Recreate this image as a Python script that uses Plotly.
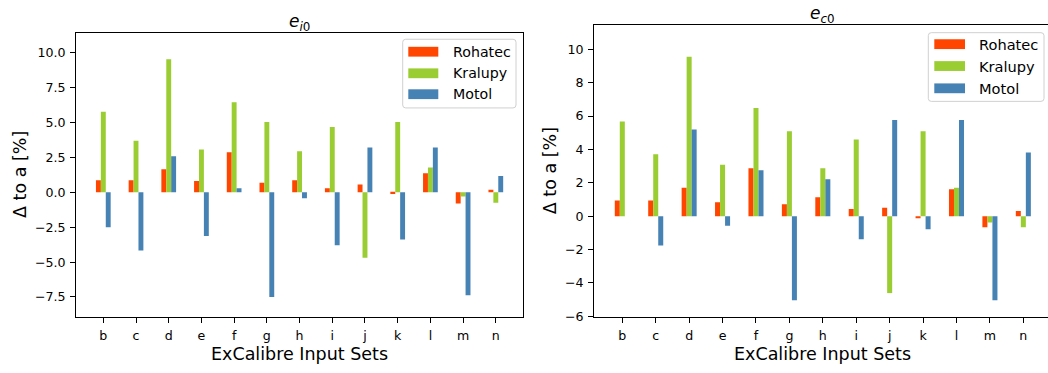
import plotly.graph_objects as go

# ---- data -------------------------------------------------------------
categories = ["b", "c", "d", "e", "f", "g", "h", "i", "j", "k", "l", "m", "n"]
series_names = ["Rohatec", "Kralupy", "Motol"]
series_colors = ["#FF4500", "#9ACD32", "#4682B4"]

ei0_rohatec = [0.87, 0.87, 1.66, 0.82, 2.88, 0.68, 0.87, 0.30, 0.56, -0.12, 1.36, -0.80, 0.19]
ei0_kralupy = [5.77, 3.70, 9.54, 3.07, 6.45, 5.04, 2.95, 4.69, -4.69, 5.04, 1.78, -0.30, -0.75]
ei0_motol = [-2.51, -4.17, 2.58, -3.12, 0.30, -7.50, -0.42, -3.80, 3.21, -3.38, 3.21, -7.38, 1.17]

ec0_rohatec = [0.94, 0.94, 1.71, 0.84, 2.88, 0.72, 1.14, 0.43, 0.51, -0.12, 1.61, -0.67, 0.31]
ec0_kralupy = [5.67, 3.71, 9.55, 3.09, 6.49, 5.09, 2.88, 4.59, -4.61, 5.09, 1.71, -0.38, -0.67]
ec0_motol = [0.0, -1.76, 5.20, -0.57, 2.76, -5.04, 2.21, -1.39, 5.76, -0.79, 5.76, -5.04, 3.82]

ei0_ticks = [-7.5, -5.0, -2.5, 0.0, 2.5, 5.0, 7.5, 10.0]
ec0_ticks = [-6, -4, -2, 0, 2, 4, 6, 8, 10]

# ---- page geometry (pixels) -------------------------------------------
W, H = 1048, 373
FONT = "DejaVu Sans"


def px(x):
    return x / W


def py(y):
    return 1 - y / H


def fmt(v, decimals):
    s = f"{abs(v):.{decimals}f}"
    return ("\u2212" + s) if v < 0 else s


fig = go.Figure()

panels = [
    ("x", "y", [ei0_rohatec, ei0_kralupy, ei0_motol]),
    ("x2", "y2", [ec0_rohatec, ec0_kralupy, ec0_motol]),
]
for xa, ya, values in panels:
    for name, color, vals in zip(series_names, series_colors, values):
        fig.add_trace(go.Bar(
            x=categories, y=vals, name=name, xaxis=xa, yaxis=ya,
            marker=dict(color=color, line=dict(width=0)),
            showlegend=False,
        ))

axis_common = dict(
    showline=True, linecolor="black", linewidth=1,
    ticks="outside", ticklen=5, tickwidth=1, tickcolor="black",
    showgrid=False, zeroline=False,
    tickfont=dict(family=FONT, size=12.6, color="black"),
)

fig.update_layout(
    width=W, height=H,
    margin=dict(l=0, r=0, t=0, b=0),
    paper_bgcolor="white", plot_bgcolor="white",
    barmode="group", bargap=0.55, bargroupgap=0,
    font=dict(family=FONT, color="black"),
    xaxis=dict(domain=[px(76), px(523.3)], range=[-0.835, 12.84],
               type="category", mirror=True, anchor="y",
               ticklabelstandoff=2, **axis_common),
    yaxis=dict(domain=[py(323.3), py(33.3)], range=[-8.95, 11.44],
               tickvals=ei0_ticks, ticktext=[fmt(v, 1) for v in ei0_ticks],
               mirror=True, anchor="x", ticklabelstandoff=2, **axis_common),
    xaxis2=dict(domain=[px(594), 1.0], range=[-0.847, 12.738],
                type="category", mirror=True, anchor="y2",
                ticklabelstandoff=2, **axis_common),
    yaxis2=dict(domain=[py(323), py(25.3)], range=[-6.04, 11.47],
                tickvals=ec0_ticks, ticktext=[fmt(v, 0) for v in ec0_ticks],
                mirror=False, anchor="x2", ticklabelstandoff=2, **axis_common),
)

annotations = []
shapes = []

# panel titles
for cx, ty, sub in [(299.7, 23, "i"), (822.9, 15, "c")]:
    annotations.append(dict(
        text=f"<i>e</i><sub><i>{sub}</i>0</sub>", x=px(cx), y=py(ty),
        xref="paper", yref="paper", xanchor="center", yanchor="middle",
        showarrow=False, font=dict(family=FONT, size=17, color="black"),
    ))

# axis titles
for cx in (299.7, 822.9):
    annotations.append(dict(
        text="ExCalibre Input Sets", x=px(cx), y=py(361),
        xref="paper", yref="paper", xanchor="center", yanchor="middle",
        showarrow=False, font=dict(family=FONT, size=17.5, color="black"),
    ))
for cx, cy in [(20, 178.3), (549.5, 174)]:
    annotations.append(dict(
        text="\u0394 to a [%]", x=px(cx), y=py(cy), textangle=-90,
        xref="paper", yref="paper", xanchor="center", yanchor="middle",
        showarrow=False, font=dict(family=FONT, size=17.5, color="black"),
    ))


def rounded_rect(x0, y0, x1, y1, r):
    """SVG path (paper units) for a rectangle with rounded corners, given pixels."""
    pts = [
        f"M{px(x0 + r)},{py(y0)}",
        f"L{px(x1 - r)},{py(y0)}",
        f"Q{px(x1)},{py(y0)} {px(x1)},{py(y0 + r)}",
        f"L{px(x1)},{py(y1 - r)}",
        f"Q{px(x1)},{py(y1)} {px(x1 - r)},{py(y1)}",
        f"L{px(x0 + r)},{py(y1)}",
        f"Q{px(x0)},{py(y1)} {px(x0)},{py(y1 - r)}",
        f"L{px(x0)},{py(y0 + r)}",
        f"Q{px(x0)},{py(y0)} {px(x0 + r)},{py(y0)}",
        "Z",
    ]
    return " ".join(pts)


# legends drawn as a framed box with colour patches and labels
legends = [
    dict(box=(402.7, 40, 516, 110), patch=(408.3, 438.3), rows=(52.7, 74.7, 96), text_x=451, fs=14.2),
    dict(box=(928.3, 33.3, 1044, 103.3), patch=(934.3, 965), rows=(45, 67.3, 90), text_x=977.3, fs=14.6),
]
for lg in legends:
    x0, y0, x1, y1 = lg["box"]
    shapes.append(dict(
        type="path", path=rounded_rect(x0, y0, x1, y1, 3),
        xref="paper", yref="paper",
        fillcolor="rgba(255,255,255,0.8)", line=dict(color="#d0d0d0", width=1),
        layer="above",
    ))
    for name, color, ry in zip(series_names, series_colors, lg["rows"]):
        shapes.append(dict(
            type="rect", xref="paper", yref="paper",
            x0=px(lg["patch"][0]), x1=px(lg["patch"][1]),
            y0=py(ry - 5), y1=py(ry + 5),
            fillcolor=color, line=dict(width=0), layer="above",
        ))
        annotations.append(dict(
            text=name, x=px(lg["text_x"]), y=py(ry),
            xref="paper", yref="paper", xanchor="left", yanchor="middle",
            showarrow=False, font=dict(family=FONT, size=lg["fs"], color="black"),
        ))

fig.update_layout(annotations=annotations, shapes=shapes)
fig.write_html("out.html")
